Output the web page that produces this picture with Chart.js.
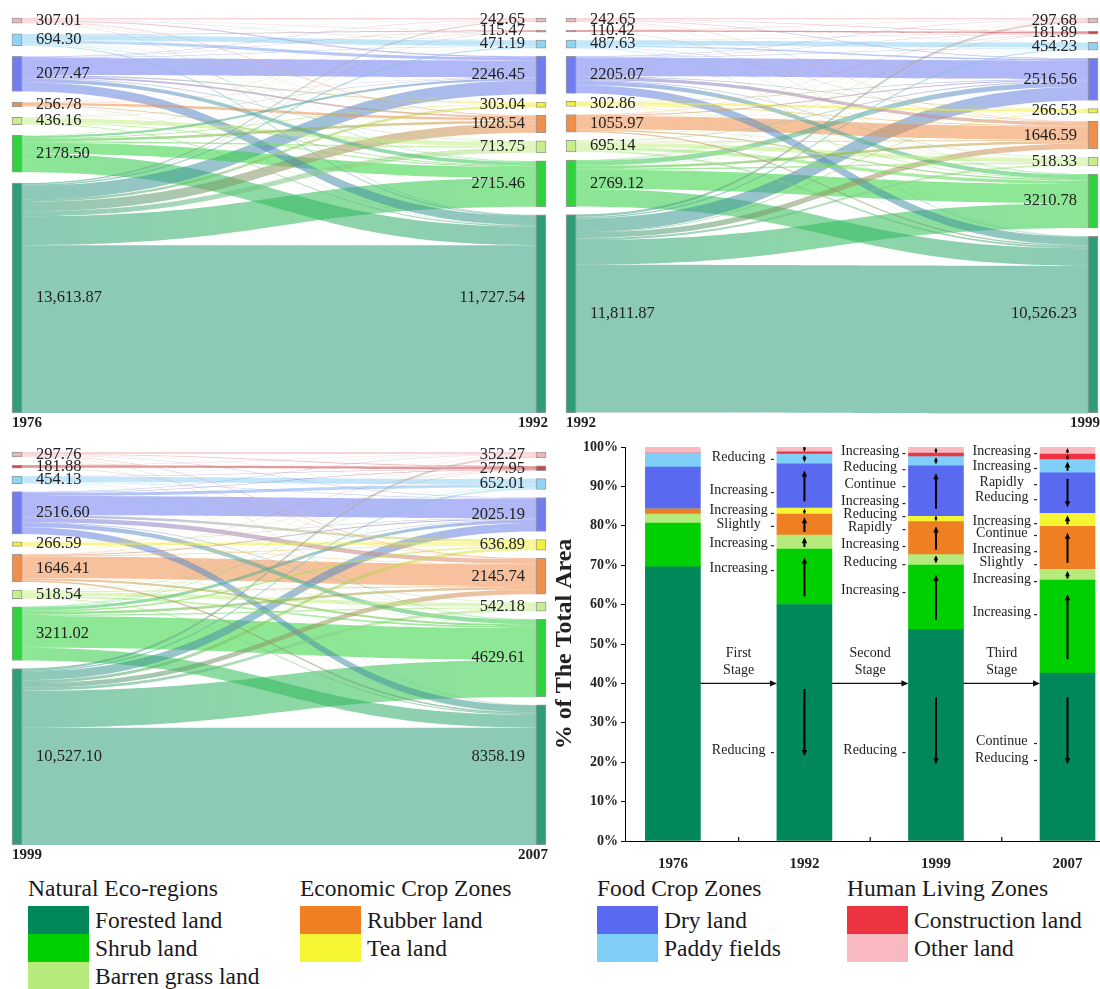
<!DOCTYPE html>
<html>
<head>
<meta charset="utf-8">
<script src="https://cdn.jsdelivr.net/npm/chart.js@4.4.1/dist/chart.umd.min.js"></script>
<style>
  body { margin: 0; background: #fff; width: 1100px; height: 989px; position: relative; overflow: hidden;
         font-family: "Liberation Serif", Tinos, "Times New Roman", "DejaVu Serif", serif; color: #1a1a1a; }
  canvas { position: absolute; }
  .lg-title { position: absolute; font-size: 23.5px; line-height: 24px; white-space: nowrap; }
  .lg-item { position: absolute; font-size: 23.5px; line-height: 28px; height: 28px; white-space: nowrap; }
  .lg-item span { display: inline-block; width: 61px; height: 28px; vertical-align: top; margin-right: 6px; }
</style>
</head>
<body>
<canvas id="s1" width="550" height="432" style="left:0;top:0"></canvas>
<canvas id="s2" width="548" height="432" style="left:552px;top:0"></canvas>
<canvas id="s3" width="550" height="432" style="left:0;top:432px"></canvas>
<canvas id="bars" width="552" height="440" style="left:548px;top:432px"></canvas>
<div id="legend"></div>
<script>
// categories, top to bottom as in the sankey columns
const categories = ['Other land', 'Construction land', 'Paddy fields', 'Dry land', 'Tea land',
                    'Rubber land', 'Barren grass land', 'Shrub land', 'Forested land'];
const years = ['1976', '1992', '1999', '2007'];

// node areas printed on the sankey panels
const area1976  = [307.01, 0, 694.30, 2077.47, 0, 256.78, 436.16, 2178.50, 13613.87];
const area1992a = [242.65, 115.47, 471.19, 2246.45, 303.04, 1028.54, 713.75, 2715.46, 11727.54];
const area1992b = [242.65, 110.42, 487.63, 2205.07, 302.86, 1055.97, 695.14, 2769.12, 11811.87];
const area1999a = [297.68, 181.89, 454.23, 2516.56, 266.53, 1646.59, 518.33, 3210.78, 10526.23];
const area1999b = [297.76, 181.88, 454.13, 2516.60, 266.59, 1646.41, 518.54, 3211.02, 10527.10];
const area2007  = [352.27, 277.95, 652.01, 2025.19, 636.89, 2145.74, 542.18, 4629.61, 8358.19];

// estimated transfers (row = from, column = to), same category order
const flows1976_1992 = [
  [90, 17.43, 20, 80, 5.04, 38.54, 10, 15.46, 30.54],
  [0, 0, 0, 0, 0, 0, 0, 0, 0],
  [20, 43.04, 333.19, 173.07, 5, 20, 10, 40, 50],
  [30, 25, 40, 1006.45, 80, 90, 50, 230, 526.02],
  [0, 0, 0, 0, 0, 0, 0, 0, 0],
  [3, 0, 3, 20.78, 15, 150, 8, 30, 27],
  [3, 5, 5, 29.41, 8, 20, 255.75, 50, 60],
  [10, 5, 10, 133.5, 40, 150, 80, 650, 1100],
  [86.65, 20, 60, 803.24, 150, 560, 300, 1700, 9933.98]
];
const flows1992_1999 = [
  [80, 30, 10, 40, 5, 30, 10, 17.65, 20],
  [5, 90, 0, 5, 0, 3, 0, 3, 4.42],
  [10, 15, 300, 90, 5, 20, 5, 20.63, 22],
  [30, 20, 40, 1100, 40, 200, 40, 250, 485.07],
  [5, 3, 3, 40, 150, 60, 5, 20, 16.86],
  [10, 10, 5, 60, 10, 800, 10, 80, 70.97],
  [10, 3, 3, 60, 5, 60, 250, 200, 104.14],
  [20, 5, 8, 300, 15, 150, 80, 1150, 1041.12],
  [127.68, 5.89, 85.23, 821.56, 36.53, 323.59, 118.33, 1469.5, 8792.6]
];
const flows1999_2007 = [
  [120, 40, 15, 30, 10, 35, 7, 20, 20.76],
  [10, 150, 5, 5, 0, 5, 0, 3, 3.88],
  [15, 20, 330, 40, 10, 15, 4, 10, 10.13],
  [40, 30, 180, 1150, 150, 280, 40, 250, 396.6],
  [5, 5, 5, 30, 150, 30, 5, 20, 16.59],
  [10, 15, 10, 50, 40, 1300, 10, 120, 91.41],
  [10, 5, 5, 40, 15, 60, 230, 100, 53.54],
  [20, 8, 30, 180, 80, 150, 80, 1900, 763.02],
  [122.27, 4.95, 72.01, 500.19, 181.89, 270.74, 166.18, 2206.61, 7002.26]
];

// text notes between the bars: [percent, text]
const gapNotes = [
  [[97.5, 'Reducing'], [89.1, 'Increasing'], [83.8, 'Increasing'], [80.5, 'Slightly'],
   [75.6, 'Increasing'], [69.3, 'Increasing'], [23.1, 'Reducing']],
  [[99.0, 'Increasing'], [94.9, 'Reducing'], [90.6, 'Continue'], [86.3, 'Increasing'],
   [83.0, 'Reducing'], [79.7, 'Rapidly'], [75.4, 'Increasing'], [70.8, 'Reducing'],
   [63.7, 'Increasing'], [23.1, 'Reducing']],
  [[99.0, 'Increasing'], [95.2, 'Increasing'], [91.1, 'Rapidly'], [87.3, 'Reducing'],
   [81.2, 'Increasing'], [78.2, 'Continue'], [74.1, 'Increasing'], [70.8, 'Slightly'],
   [66.5, 'Increasing'], [58.1, 'Increasing'], [25.4, 'Continue'], [21.1, 'Reducing']]
];
const stageNames = [['First', 'Stage'], ['Second', 'Stage'], ['Third', 'Stage']];
const stageTextAt = [47.7, 43.4];
const stageArrowAt = 40;

const legendGroups = [
  ['Natural Eco-regions', ['Forested land', 'Shrub land', 'Barren grass land']],
  ['Economic Crop Zones', ['Rubber land', 'Tea land']],
  ['Food Crop Zones', ['Dry land', 'Paddy fields']],
  ['Human Living Zones', ['Construction land', 'Other land']]
];

// colours
const nodeColors = ['#f0b4b8', '#c9464b', '#8fd3f5', '#6f7df0', '#f2f03a', '#f08e4c', '#c6ee8a', '#2fd33d', '#2f9d7a'];
const barColors  = ['#f8b9c0', '#ee3340', '#7fcff8', '#5a6af0', '#f5f533', '#ef7f23', '#b6ea7c', '#00d000', '#00875a'];

const SERIF = '"Liberation Serif", Tinos, "Times New Roman", "DejaVu Serif", serif';
Chart.defaults.font.family = SERIF;
Chart.defaults.color = '#222';

const NODE_W = 10;
const sum = a => a.reduce((s, v) => s + v, 0);

function withAlpha(hex, a) {
  const n = parseInt(hex.slice(1), 16);
  return `rgba(${n >> 16},${(n >> 8) & 255},${n & 255},${a})`;
}

function fmt(v) {
  return v >= 10000
    ? v.toLocaleString('en-US', {minimumFractionDigits: 2, maximumFractionDigits: 2})
    : v.toFixed(2);
}

// stack a column of nodes over the whole height with equal gaps
function layoutColumn(vals, ymax) {
  const n = vals.filter(v => v > 0).length;
  const gap = (ymax - sum(vals)) / (n - 1);
  let pos = 0;
  return vals.map(v => {
    const node = {y0: pos, y1: pos + v, v};
    if (v > 0) pos += v + gap;
    return node;
  });
}

// flow bands + node labels
const sankeyFlows = {
  id: 'sankeyFlows',
  beforeDatasetsDraw(chart, args, opts) {
    const {ctx, scales: {x, y}} = chart;
    const x0 = x.getPixelForValue(0) + NODE_W / 2;
    const x1 = x.getPixelForValue(1) - NODE_W / 2;
    const xm = (x0 + x1) / 2;
    const outOff = opts.left.map(n => n.y0);
    const inOff = opts.right.map(n => n.y0);
    const links = [];
    opts.flows.forEach((row, i) => row.forEach((v, j) => {
      if (v <= 0) return;
      links.push({i, j, v, s: outOff[i], t: inOff[j]});
      outOff[i] += v;
      inOff[j] += v;
    }));
    ctx.save();
    links.sort((a, b) => b.v - a.v).forEach(l => {
      const ys0 = y.getPixelForValue(l.s), ys1 = y.getPixelForValue(l.s + l.v);
      const yt0 = y.getPixelForValue(l.t), yt1 = y.getPixelForValue(l.t + l.v);
      ctx.beginPath();
      ctx.moveTo(x0, ys0);
      ctx.bezierCurveTo(xm, ys0, xm, yt0, x1, yt0);
      ctx.lineTo(x1, yt1);
      ctx.bezierCurveTo(xm, yt1, xm, ys1, x0, ys1);
      ctx.closePath();
      const g = ctx.createLinearGradient(x0, 0, x1, 0);
      g.addColorStop(0, withAlpha(nodeColors[l.i], 0.55));
      g.addColorStop(1, withAlpha(nodeColors[l.j], 0.55));
      ctx.fillStyle = g;
      ctx.fill();
    });
    ctx.restore();
  },
  afterDatasetsDraw(chart, args, opts) {
    const {ctx, scales: {x, y}, chartArea} = chart;
    const xl = x.getPixelForValue(0), xr = x.getPixelForValue(1);
    const last = opts.left.length - 1;
    const mid = n => y.getPixelForValue((n.y0 + n.y1) / 2);
    ctx.save();
    ctx.fillStyle = '#222';
    ctx.font = '16.5px ' + SERIF;
    ctx.textBaseline = 'middle';
    ctx.textAlign = 'left';
    opts.left.forEach(n => {
      if (n.v > 0) ctx.fillText(fmt(n.v), xl + NODE_W / 2 + 14, mid(n));
    });
    ctx.textAlign = 'right';
    opts.right.forEach((n, k) => {
      // the big bottom label sits level with its partner on the left
      const py = k === last ? mid(opts.left[last]) : mid(n);
      if (n.v > 0) ctx.fillText(fmt(n.v), xr - NODE_W / 2 - 11, py);
    });
    ctx.font = 'bold 15px ' + SERIF;
    ctx.textBaseline = 'top';
    ctx.textAlign = 'left';
    ctx.fillText(opts.yrs[0], xl - NODE_W / 2, chartArea.bottom + 3);
    ctx.textAlign = 'right';
    ctx.fillText(opts.yrs[1], xr + NODE_W / 2 + 2, chartArea.bottom + 3);
    ctx.restore();
  }
};

function makeSankey(id, pad, yrs, fromVals, toVals, flows) {
  const ymax = Math.max(sum(fromVals), sum(toVals)) * 1.195;
  const left = layoutColumn(fromVals, ymax);
  const right = layoutColumn(toVals, ymax);
  const nodes = [];
  left.forEach((n, c) => { if (n.v > 0) nodes.push({x: 0, y: [n.y0, n.y1], c}); });
  right.forEach((n, c) => { if (n.v > 0) nodes.push({x: 1, y: [n.y0, n.y1], c}); });
  new Chart(document.getElementById(id), {
    type: 'bar',
    data: {
      datasets: [{
        data: nodes,
        backgroundColor: nodes.map(n => nodeColors[n.c]),
        borderColor: 'rgba(0,0,0,0.4)',
        borderWidth: 1,
        borderSkipped: false,
        barThickness: NODE_W,
        clip: false
      }]
    },
    options: {
      responsive: false,
      animation: false,
      events: [],
      layout: {padding: pad},
      scales: {
        x: {type: 'linear', min: 0, max: 1, offset: false, display: false},
        y: {type: 'linear', min: 0, max: ymax, reverse: true, display: false}
      },
      plugins: {
        legend: {display: false},
        tooltip: {enabled: false},
        sankeyFlows: {left, right, flows, yrs}
      }
    },
    plugins: [sankeyFlows]
  });
}

makeSankey('s1', {left: 17, right: 9, top: 18, bottom: 19}, ['1976', '1992'], area1976, area1992a, flows1976_1992);
makeSankey('s2', {left: 19, right: 7, top: 18, bottom: 19}, ['1992', '1999'], area1992b, area1999a, flows1992_1999);
makeSankey('s3', {left: 17, right: 9, top: 20, bottom: 19}, ['1999', '2007'], area1999b, area2007, flows1999_2007);

// ---- stacked percentage bars ----
const shares = [area1976, area1992b, area1999b, area2007].map(a => {
  const t = sum(a);
  return a.map(v => v / t * 100);
});

function drawArrow(ctx, xa, ya, xb, yb, head) {
  const ang = Math.atan2(yb - ya, xb - xa);
  const c = Math.cos(ang), s = Math.sin(ang);
  ctx.beginPath();
  ctx.moveTo(xa, ya);
  ctx.lineTo(xb - head * 0.8 * c, yb - head * 0.8 * s);
  ctx.stroke();
  ctx.beginPath();
  ctx.moveTo(xb, yb);
  ctx.lineTo(xb - head * c + head * 0.45 * s, yb - head * s - head * 0.45 * c);
  ctx.lineTo(xb - head * c - head * 0.45 * s, yb - head * s + head * 0.45 * c);
  ctx.closePath();
  ctx.fill();
}

const stageNotes = {
  id: 'stageNotes',
  afterDatasetsDraw(chart) {
    const {ctx, scales: {x, y}} = chart;
    const bw = chart.getDatasetMeta(0).data[0].width;
    ctx.save();
    ctx.fillStyle = '#222';
    ctx.strokeStyle = '#111';
    ctx.font = '14px ' + SERIF;
    ctx.textAlign = 'center';
    ctx.textBaseline = 'middle';
    gapNotes.forEach((list, g) => {
      const cx = x.getPixelForValue(g + 0.5);
      const xa = x.getPixelForValue(g) + bw / 2;
      const xb = x.getPixelForValue(g + 1) - bw / 2;
      list.forEach(([v, t]) => {
        const py = y.getPixelForValue(v);
        ctx.fillText(t, cx, py);
        ctx.fillRect(xb - 6, py + 2, 3, 1.2);
      });
      stageNames[g].forEach((t, k) => ctx.fillText(t, cx, y.getPixelForValue(stageTextAt[k])));
      ctx.lineWidth = 1.2;
      ctx.fillStyle = '#111';
      drawArrow(ctx, xa, y.getPixelForValue(stageArrowAt), xb, y.getPixelForValue(stageArrowAt), 7);
      // small tick on the x axis between two bars
      ctx.fillRect(cx - 0.6, y.getPixelForValue(0) - 4, 1.2, 4);
      ctx.fillStyle = '#222';
    });
    // change arrows inside each later bar
    ctx.fillStyle = '#000';
    ctx.strokeStyle = '#000';
    ctx.lineWidth = 2;
    const span17 = y.getPixelForValue(0) - y.getPixelForValue(17);
    for (let i = 1; i < years.length; i++) {
      categories.forEach((_, c) => {
        const el = chart.getDatasetMeta(categories.length - 1 - c).data[i];
        const h = el.base - el.y;
        if (h < 4) return;
        const mid = Math.min((el.y + el.base) / 2, y.getPixelForValue(28));
        const len = Math.max(Math.min(h * 0.7, span17), 5);
        const up = shares[i][c] > shares[i - 1][c];
        const ya = up ? mid + len / 2 : mid - len / 2;
        const yb = up ? mid - len / 2 : mid + len / 2;
        drawArrow(ctx, el.x, ya, el.x, yb, Math.min(6, len * 0.7));
      });
    }
    ctx.restore();
  }
};

new Chart(document.getElementById('bars'), {
  type: 'bar',
  data: {
    datasets: categories.map((name, c) => ({
      label: name,
      data: shares.map((s, i) => ({x: i, y: s[c]})),
      backgroundColor: barColors[c],
      borderWidth: 0,
      barThickness: 55
    })).reverse()
  },
  options: {
    responsive: false,
    animation: false,
    events: [],
    layout: {padding: {top: 15, right: 0, left: 0, bottom: 0}},
    scales: {
      x: {
        type: 'linear', stacked: true, min: -0.364, max: 3.247, offset: false,
        afterBuildTicks: scale => { scale.ticks = years.map((_, i) => ({value: i})); },
        afterFit: scale => { scale.height = 31; },
        ticks: {callback: v => years[v], font: {size: 15, weight: 'bold'}, color: '#222', padding: 6},
        grid: {display: false, offset: false},
        border: {display: true, color: '#000', width: 1}
      },
      y: {
        stacked: true, min: 0, max: 100,
        afterFit: scale => { scale.width = 77; },
        ticks: {stepSize: 10, callback: v => v + '%', font: {size: 14, weight: 'bold'}, color: '#222', padding: 3},
        grid: {drawOnChartArea: false, drawTicks: true, tickLength: 4, color: '#000'},
        border: {display: true, color: '#000', width: 1},
        title: {display: true, text: '% of The Total Area', font: {size: 24, weight: 'bold'}, color: '#222', padding: {top: 2, bottom: 4}}
      }
    },
    plugins: {legend: {display: false}, tooltip: {enabled: false}}
  },
  plugins: [stageNotes]
});

// ---- legend ----
const legendX = [28, 300, 597, 847];
const legendEl = document.getElementById('legend');
legendGroups.forEach(([title, items], g) => {
  const t = document.createElement('div');
  t.className = 'lg-title';
  t.style.left = legendX[g] + 'px';
  t.style.top = '876px';
  t.textContent = title;
  legendEl.appendChild(t);
  items.forEach((name, k) => {
    const row = document.createElement('div');
    row.className = 'lg-item';
    row.style.left = legendX[g] + 'px';
    row.style.top = (906 + k * 28) + 'px';
    const sw = document.createElement('span');
    sw.style.background = barColors[categories.indexOf(name)];
    row.appendChild(sw);
    row.appendChild(document.createTextNode(name));
    legendEl.appendChild(row);
  });
});
</script>
</body>
</html>
